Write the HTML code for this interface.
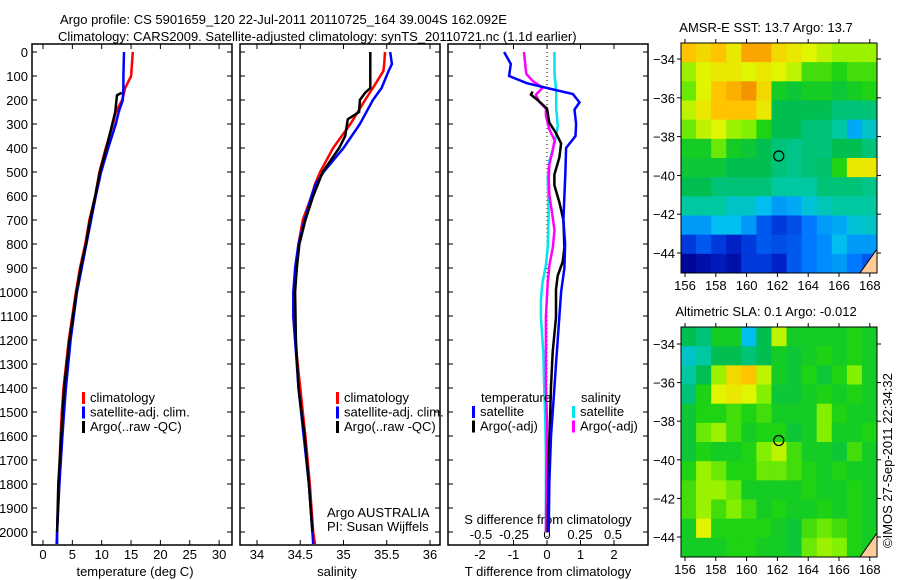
<!DOCTYPE html>
<html><head><meta charset="utf-8">
<style>
html,body{margin:0;padding:0;background:#fff;}
svg{display:block;font-family:"Liberation Sans",sans-serif;}
text{fill:#000;font-size:13px;}
</style></head>
<body>
<svg id="fig" width="900" height="580" viewBox="0 0 900 580">
<text x="60" y="24" font-size="14">Argo profile: CS 5901659_120 22-Jul-2011 20110725_164 39.004S 162.092E</text>
<text x="58" y="41" font-size="14">Climatology: CARS2009. Satellite-adjusted climatology: synTS_20110721.nc (1.1d earlier)</text>
<g id="p1"></g>
<g id="p2"></g>
<g id="p3"></g>
<g id="m1"></g>
<g id="m2"></g>
<text transform="translate(892,548) rotate(-90)" font-size="13">©IMOS 27-Sep-2011 22:34:32</text>
</svg>
<script>
// ---- profile data ----
const tempDepth = [0,100,150,200,250,300,400,500,600,700,800,900,1000,1200,1400,1500,1600,1800,2000,2050];
const tempClim  = [15.3,15.0,14.0,13.5,12.4,11.9,10.7,9.6,8.9,7.9,7.2,6.3,5.6,4.4,3.5,3.2,3.0,2.7,2.4,2.3];
const tempSat   = [13.8,13.7,13.7,13.6,12.9,12.4,11.1,9.9,9.0,8.2,7.4,6.6,5.8,4.7,3.9,3.6,3.3,2.8,2.4,2.4];
const argoTDepth = [170,180,250,300,400,500,600,700,800,900,1000,1200,1400,1600,1800,2000];
const argoTemp   = [13.4,12.6,12.3,11.8,10.8,9.7,8.9,8.0,7.3,6.4,5.7,4.5,3.6,3.1,2.6,2.4];

const salDepth = [0,50,80,150,200,300,400,500,550,600,700,800,900,1000,1100,1200,1400,1500,1600,1800,2000,2050];
const salClim  = [35.48,35.47,35.46,35.34,35.25,35.08,34.88,34.73,34.67,34.63,34.53,34.48,34.45,34.43,34.42,34.44,34.50,34.53,34.56,34.61,34.65,34.67];
const salSat   = [35.54,35.56,35.52,35.44,35.34,35.19,35.00,34.77,34.68,34.63,34.55,34.48,34.44,34.42,34.42,34.44,34.48,34.51,34.54,34.60,34.64,34.65];
const argoSDepth = [0,150,170,200,250,280,350,400,500,600,700,800,900,1000,1200,1400,1600,1800,2000];
const argoSal    = [35.31,35.31,35.25,35.19,35.18,35.05,35.02,34.95,34.76,34.65,34.56,34.49,34.46,34.44,34.45,34.48,34.55,34.60,34.64];

const dTSatDepth = [0,50,100,130,150,175,210,240,300,350,400,500,600,700,800,900,1000,1100,1200,1300,1400,1500,1600,1800,2000];
const dTSat      = [-1.28,-1.08,-1.13,-0.6,0,0.77,0.97,0.82,0.87,0.85,0.57,0.55,0.52,0.49,0.54,0.52,0.42,0.37,0.32,0.27,0.22,0.17,0.12,0.07,0.05];
const dTArgoDepth = [165,178,200,236,294,338,381,439,511,555,627,700,815,874,932,990,1105,1250,1395,1540,1685,2000];
const dTArgo      = [-0.43,-0.48,-0.28,0,0.07,0.27,0.42,0.37,0.22,0.22,0.37,0.49,0.52,0.47,0.32,0.27,0.27,0.17,0.12,0.09,0.05,0.02];
const dSArgoDepth = [0,91,120,149,178,207,236,265,323,367,410,468,526,598,671,743,815,888,961,1105,1250,1395,1540,2000];
const dSArgo      = [-0.175,-0.157,-0.11,-0.033,-0.085,-0.06,-0.008,-0.008,0.018,0.057,0.044,0.018,0.013,0.018,0.039,0.057,0.044,0.018,0.005,-0.008,-0.008,-0.008,0.0,-0.008];
const dSSatDepth = [0,91,164,236,309,381,453,526,671,815,888,961,1033,1105,1250,1395,1540,1685,2000];
const dSSat      = [0.057,0.057,0.07,0.07,0.082,0.057,0.018,0.005,0.013,0.005,-0.008,-0.034,-0.046,-0.046,-0.028,-0.021,-0.013,-0.008,-0.008];

// ---- map data (values 0..1 on jet-like colour scale), rows north->south ----
const sstGrid = [
[0.85,0.82,0.85,0.8,0.88,0.88,0.82,0.8,0.78,0.75,0.72,0.72,0.72],
[0.72,0.78,0.8,0.8,0.78,0.8,0.78,0.75,0.65,0.65,0.62,0.65,0.65],
[0.68,0.78,0.85,0.87,0.9,0.82,0.6,0.58,0.6,0.6,0.58,0.6,0.62],
[0.75,0.8,0.85,0.85,0.85,0.8,0.55,0.55,0.55,0.55,0.5,0.5,0.5],
[0.68,0.75,0.78,0.72,0.7,0.62,0.55,0.55,0.5,0.5,0.45,0.32,0.4],
[0.6,0.6,0.68,0.6,0.58,0.55,0.5,0.48,0.5,0.5,0.55,0.55,0.5],
[0.58,0.58,0.58,0.55,0.55,0.55,0.5,0.48,0.5,0.52,0.62,0.8,0.8],
[0.55,0.55,0.5,0.5,0.5,0.5,0.45,0.45,0.45,0.5,0.5,0.5,0.48],
[0.45,0.45,0.45,0.4,0.4,0.35,0.3,0.32,0.38,0.42,0.45,0.45,0.45],
[0.3,0.3,0.35,0.35,0.3,0.2,0.15,0.18,0.25,0.3,0.32,0.38,0.4],
[0.15,0.2,0.15,0.1,0.15,0.2,0.18,0.2,0.25,0.28,0.35,0.3,0.3],
[0.02,0.05,0.08,0.05,0.15,0.15,0.1,0.2,0.25,0.28,0.3,0.25,0.2]];
const slaGrid = [
[0.55,0.5,0.6,0.6,0.35,0.55,0.75,0.6,0.6,0.6,0.6,0.62,0.6],
[0.4,0.45,0.55,0.55,0.5,0.55,0.6,0.58,0.6,0.62,0.6,0.62,0.6],
[0.45,0.55,0.72,0.82,0.85,0.75,0.6,0.58,0.62,0.58,0.62,0.7,0.6],
[0.5,0.62,0.78,0.8,0.78,0.7,0.58,0.58,0.6,0.62,0.6,0.62,0.6],
[0.58,0.62,0.62,0.65,0.62,0.65,0.6,0.6,0.6,0.7,0.62,0.6,0.6],
[0.58,0.68,0.72,0.65,0.6,0.62,0.62,0.58,0.6,0.7,0.6,0.6,0.62],
[0.58,0.62,0.6,0.6,0.62,0.7,0.75,0.65,0.6,0.6,0.58,0.65,0.6],
[0.62,0.72,0.68,0.62,0.62,0.68,0.68,0.65,0.62,0.6,0.62,0.6,0.6],
[0.65,0.72,0.72,0.68,0.6,0.6,0.6,0.6,0.62,0.6,0.6,0.62,0.6],
[0.65,0.72,0.65,0.7,0.65,0.6,0.62,0.6,0.6,0.62,0.6,0.62,0.6],
[0.6,0.78,0.62,0.62,0.62,0.62,0.6,0.58,0.65,0.68,0.65,0.62,0.6],
[0.6,0.6,0.6,0.62,0.62,0.6,0.6,0.58,0.68,0.72,0.7,0.62,0.6]];
const depthTicks = [0,100,200,300,400,500,600,700,800,900,1000,1100,1200,1300,1400,1500,1600,1700,1800,1900,2000];
const tempTicks = [0,5,10,15,20,25,30];
const salTicks = [34,34.5,35,35.5,36];
const salTickLabels = ["34","34.5","35","35.5","36"];
const dTTicks = [-2,-1,0,1,2];
const dSTicks = [-0.5,-0.25,0,0.25,0.5];
const dSTickLabels = ["-0.5","-0.25","0","0.25","0.5"];
const lonTicks = [156,158,160,162,164,166,168];
const latTicks = [-34,-36,-38,-40,-42,-44];

const NS="http://www.w3.org/2000/svg";
function mk(parent,tag,attrs){const e=document.createElementNS(NS,tag);for(const k in attrs)e.setAttribute(k,attrs[k]);parent.appendChild(e);return e;}
function txt(parent,x,y,s,anchor){const t=mk(parent,'text',{x:x,y:y,'text-anchor':anchor||'start'});t.textContent=s;return t;}

const TOP=44,BOT=545;
const yD = d => 52 + 0.24*d;
const xT = v => 43 + 5.87*v;
const xS = v => 257 + 86.5*(v-34);
const xDT = v => 547 + 33.5*v;
const xDS = v => 547 + 132*v;

function frame(g,x0,x1,name){
  const r=mk(g,'rect',{x:x0,y:TOP,width:x1-x0,height:BOT-TOP,fill:'none',stroke:'#000','stroke-width':1.5});
  
  
  depthTicks.forEach(d=>{const y=yD(d);
    mk(g,'line',{x1:x0,x2:x0+5,y1:y,y2:y,stroke:'#000'});
    mk(g,'line',{x1:x1-5,x2:x1,y1:y,y2:y,stroke:'#000'});});
}
function series(g,xs,ds,vals,color,name){
  const pts=vals.map((v,i)=>xs(v).toFixed(1)+','+yD(ds[i]).toFixed(1)).join(' ');
  const p=mk(g,'polyline',{points:pts,fill:'none',stroke:color,'stroke-width':2.5,'stroke-linejoin':'miter'});
  
  
}
function xticks(g,ticks,labels,xs,ly,name){
  ticks.forEach((t,i)=>{const x=xs(t);
    mk(g,'line',{x1:x,x2:x,y1:BOT-5,y2:BOT,stroke:'#000'});
    mk(g,'line',{x1:x,x2:x,y1:TOP,y2:TOP+5,stroke:'#000'});
    const l=txt(g,x,ly,labels[i],'middle');
    
    });
}
function legend(g,x,y,items){
  items.forEach((it,i)=>{
    mk(g,'rect',{x:x,y:y+i*14.5-10,width:3,height:12,fill:it[1]});
    const l=txt(g,x+8,y+i*14.5,it[0]);
    
    });
}
// Panel 1
const p1=document.getElementById('p1');
frame(p1,32,232,'temperature-axes');
depthTicks.forEach(d=>{const l=txt(p1,28,yD(d)+5,String(d),'end');
  
  });
xticks(p1,tempTicks,tempTicks.map(String),xT,559,'temperature-tick-label');
series(p1,xT,tempDepth,tempClim,'#ff0000','temp-climatology-line');
series(p1,xT,tempDepth,tempSat,'#0000ff','temp-satellite-line');
series(p1,xT,argoTDepth,argoTemp,'#000000','temp-argo-line');
txt(p1,135,576,'temperature (deg C)','middle');
legend(p1,82,402,[['climatology','#ff0000'],['satellite-adj. clim.','#0000ff'],['Argo(..raw -QC)','#000']]);
// Panel 2
const p2=document.getElementById('p2');
frame(p2,240,440,'salinity-axes');
xticks(p2,salTicks,salTickLabels,xS,559,'salinity-tick-label');
series(p2,xS,salDepth,salClim,'#ff0000','sal-climatology-line');
series(p2,xS,salDepth,salSat,'#0000ff','sal-satellite-line');
series(p2,xS,argoSDepth,argoSal,'#000000','sal-argo-line');
txt(p2,337,576,'salinity','middle');
legend(p2,336,402,[['climatology','#ff0000'],['satellite-adj. clim.','#0000ff'],['Argo(..raw -QC)','#000']]);
txt(p2,327,517,'Argo AUSTRALIA');
txt(p2,327,531,'PI: Susan Wijffels');
// Panel 3
const p3=document.getElementById('p3');
frame(p3,448,648,'difference-axes');
mk(p3,'line',{x1:xDT(0),x2:xDT(0),y1:TOP,y2:BOT,stroke:'#000','stroke-dasharray':'1,3'});
xticks(p3,dTTicks,dTTicks.map(String),xDT,559,'t-diff-tick-label');
dSTicks.forEach((t,i)=>{const l=txt(p3,xDS(t),539,dSTickLabels[i],'middle');
  
  });
txt(p3,548,524,'S difference from climatology','middle');
txt(p3,548,576,'T difference from climatology','middle');
series(p3,xDS,dSSatDepth,dSSat,'#00e5ee','s-diff-satellite-line');
series(p3,xDS,dSArgoDepth,dSArgo,'#ff00ff','s-diff-argo-line');
series(p3,xDT,dTArgoDepth,dTArgo,'#000000','t-diff-argo-line');
series(p3,xDT,dTSatDepth,dTSat,'#0000ff','t-diff-satellite-line');
txt(p3,481,402,'temperature');
txt(p3,581,402,'salinity');
legend(p3,472,416,[['satellite','#0000ff'],['Argo(-adj)','#000']]);
legend(p3,572,416,[['satellite','#00e5ee'],['Argo(-adj)','#ff00ff']]);

// Maps
const stops=[[0,[0,0,140]],[0.12,[0,40,210]],[0.25,[0,120,255]],[0.35,[0,190,240]],[0.45,[0,200,160]],[0.55,[0,190,80]],[0.62,[30,210,20]],[0.7,[130,240,0]],[0.78,[225,245,0]],[0.85,[255,195,0]],[0.92,[240,130,0]],[1,[190,50,0]]];
function cmap(v){for(let i=1;i<stops.length;i++){if(v<=stops[i][0]){const a=stops[i-1],b=stops[i],f=(v-a[0])/(b[0]-a[0]);
  const c=a[1].map((x,k)=>Math.round(x+(b[1][k]-x)*f));return 'rgb('+c.join(',')+')';}}return 'rgb(190,50,0)';}
function drawMap(id,grid,top,bot,lat34,lat44,title,name){
  const g=document.getElementById(id);const L=681,R=877;
  const xL=lon=>685+15.4*(lon-156);
  const yL=lat=>lat34+(lat44-lat34)*(-34-lat)/10;
  const rows=grid.length,cols=grid[0].length,cw=(R-L)/cols,ch=(bot-top)/rows;
  grid.forEach((row,r)=>row.forEach((v,c)=>{
    const e=mk(g,'rect',{x:(L+c*cw).toFixed(2),y:(top+r*ch).toFixed(2),width:(cw+0.5).toFixed(2),height:(ch+0.5).toFixed(2),fill:cmap(v)});
    
    }));
  mk(g,'polygon',{points:`${R},${bot-23} ${R},${bot} ${R-17},${bot}`,fill:'#ffcc99'});
  mk(g,'polyline',{points:`${R},${bot-24} ${R-17},${bot}`,stroke:'#000',fill:'none'});
  const c=mk(g,'circle',{cx:xL(162.09),cy:yL(-39.0),r:5,fill:'none',stroke:'#000','stroke-width':1.2});
  
  
  const f=mk(g,'rect',{x:L,y:top,width:R-L,height:bot-top,fill:'none',stroke:'#000','stroke-width':1});
  
  
  lonTicks.forEach(t=>{const x=xL(t);
    mk(g,'line',{x1:x,x2:x,y1:top-4,y2:top,stroke:'#000'});
    mk(g,'line',{x1:x,x2:x,y1:bot,y2:bot+4,stroke:'#000'});
    const l=txt(g,x,bot+17,String(t),'middle');
    
    });
  latTicks.forEach(t=>{const y=yL(t);
    mk(g,'line',{x1:L-4,x2:L,y1:y,y2:y,stroke:'#000'});
    mk(g,'line',{x1:R,x2:R+4,y1:y,y2:y,stroke:'#000'});
    const l=txt(g,L-6,y+5,String(t).replace('-','\u2212'),'end');
    
    });
  const tt=txt(g,766,top-11,title,'middle');
  
  
}
drawMap('m1',sstGrid,43,273,59,253,'AMSR-E SST: 13.7 Argo: 13.7','sst-map');
drawMap('m2',slaGrid,327,557,344,537,'Altimetric SLA: 0.1 Argo: -0.012','sla-map');
</script>
</body></html>
